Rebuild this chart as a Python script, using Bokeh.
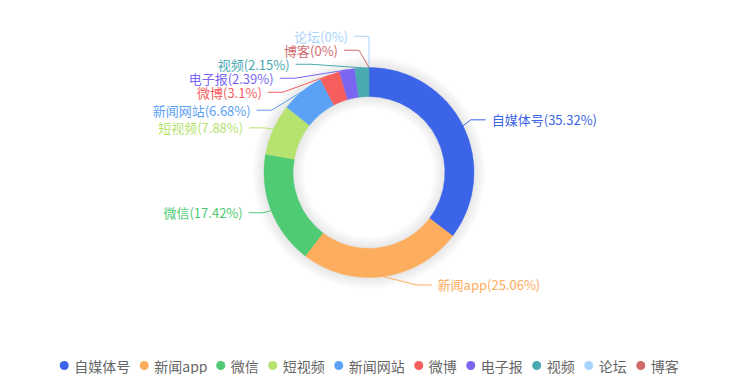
import math
from bokeh.plotting import figure
from bokeh.models import Range1d, ColumnDataSource
from bokeh.core.properties import value
from bokeh.embed import file_html
from bokeh.resources import INLINE

# ---------------- data ----------------
categories = ["自媒体号", "新闻app", "微信", "短视频", "新闻网站", "微博", "电子报", "视频", "论坛", "博客"]
shares = [35.32, 25.06, 17.42, 7.88, 6.68, 3.1, 2.39, 2.15, 0, 0]
colors = ["#3c64e8", "#fdad5e", "#4ecb73", "#b6e36f", "#5ba1f5",
          "#f65e5e", "#7b66f2", "#4aaab2", "#a9d4fc", "#d06b6b"]

# ---------------- layout constants ----------------
PAGE_W, PAGE_H = 737, 382
W, H = 721, 374
CX, CY = 368.5, 172.0          # pie centre (picture px, y down)
R_OUT, R_IN = 105.0, 76.0
L1, L2, GAP = 10.0, 15.0, 6.0  # label line lengths, text gap
R_TEXT = 133.0
LABEL_H = 14.0
FONT = "Noto Sans CJK SC"
LABEL_SIZE = "13px"
LEGEND_SIZE = 14
LEGEND_Y = 365.0


def Y(py):
    return PAGE_H - py


p = figure(width=W, height=H, output_backend="svg", toolbar_location=None,
           x_range=Range1d(0, W), y_range=Range1d(PAGE_H - H, PAGE_H),
           min_border=0)
p.axis.visible = False
p.grid.visible = False
p.outline_line_color = None
p.background_fill_color = "white"
p.border_fill_color = "white"

# ---------------- angles ----------------
total = sum(shares)
ends, acc = [], 0.0
for v in shares:
    acc += v
    ends.append(acc)
starts = [e - v for e, v in zip(ends, shares)]
th_s = [2 * math.pi * s / total for s in starts]
th_e = [2 * math.pi * e / total for e in ends]
mids = [(a + b) / 2 for a, b in zip(th_s, th_e)]

# ---------------- soft shadow ----------------
for k in range(1, 13):
    p.annulus(x=CX, y=Y(CY), inner_radius=R_IN - k, outer_radius=R_OUT + k,
              fill_color="black", fill_alpha=0.008, line_color=None)

# ---------------- label layout (echarts-like) ----------------
items = []
for i, th in enumerate(mids):
    p0 = (CX + R_OUT * math.sin(th), CY - R_OUT * math.cos(th))
    p1 = (CX + (R_OUT + L1) * math.sin(th), CY - (R_OUT + L1) * math.cos(th))
    side = -1 if th > math.pi else 1
    items.append(dict(i=i, side=side, p0=p0, y=p1[1],
                      nat_dx=abs(p1[0] - CX) + L2 + GAP))


def adjust(lst):
    lst.sort(key=lambda it: it["y"])
    n = len(lst)

    def shift_up(end, delta):
        for j in range(end, -1, -1):
            if lst[j]["y"] - delta < 0:
                break
            lst[j]["y"] -= delta
            if j > 0 and lst[j]["y"] > lst[j - 1]["y"] + LABEL_H:
                break

    def shift_down(start, end, delta):
        for j in range(start, end):
            if lst[j]["y"] + delta > PAGE_H:
                break
            lst[j]["y"] += delta
            if j > start and j + 1 < end and lst[j + 1]["y"] > lst[j]["y"] + LABEL_H:
                shift_up(j, delta / 2)
                return
        shift_up(end - 1, delta / 2)

    last = 0.0
    for i in range(n):
        d = lst[i]["y"] - last
        if d < 0:
            shift_down(i, n, -d)
        last = lst[i]["y"] + LABEL_H

    def change_x(sub, is_down):
        lastdx = 1e9 if is_down else 0.0
        for it in sub:
            dy = abs(it["y"] - CY)
            if dy < R_OUT + L1:
                dx = math.sqrt(R_TEXT ** 2 - dy ** 2)
            else:
                dx = it["nat_dx"]
            if is_down and dx >= lastdx:
                dx = lastdx - 10
            if (not is_down) and dx <= lastdx:
                dx = lastdx + 10
            it["dx"] = dx
            lastdx = dx

    change_x([it for it in lst if it["y"] < CY], False)
    change_x([it for it in lst if it["y"] >= CY], True)


adjust([it for it in items if it["side"] < 0])
adjust([it for it in items if it["side"] > 0])

line_xs, line_ys, line_cols = [], [], []
lab = {-1: dict(x=[], y=[], t=[], c=[]), 1: dict(x=[], y=[], t=[], c=[])}
for it in items:
    s = it["side"]
    ax = CX + s * it["dx"]
    p2x = ax - s * GAP
    p1x = p2x - s * L2
    y = it["y"] - 1.5
    line_xs.append([it["p0"][0], p1x, p2x])
    line_ys.append([Y(it["p0"][1]), Y(y), Y(y)])
    line_cols.append(colors[it["i"]])
    lab[s]["x"].append(ax)
    lab[s]["y"].append(Y(y))
    lab[s]["t"].append(f"{categories[it['i']]}({shares[it['i']]:g}%)")
    lab[s]["c"].append(colors[it["i"]])

p.multi_line(xs=line_xs, ys=line_ys, line_color=line_cols, line_width=1)

# ---------------- donut ----------------
ws = ColumnDataSource(dict(
    start=[math.pi / 2 - a for a, v in zip(th_s, shares) if v > 0],
    end=[math.pi / 2 - b for b, v in zip(th_e, shares) if v > 0],
    color=[c for c, v in zip(colors, shares) if v > 0],
))
p.annular_wedge(x=CX, y=Y(CY), inner_radius=R_IN, outer_radius=R_OUT,
                start_angle="start", end_angle="end", direction="clock",
                fill_color="color", line_color="color", line_width=0.5, source=ws)

# ---------------- labels ----------------
for s, align in ((-1, "right"), (1, "left")):
    src = ColumnDataSource(dict(x=lab[s]["x"], y=lab[s]["y"], t=lab[s]["t"], c=lab[s]["c"]))
    p.text(x="x", y="y", text="t", text_color="c", source=src,
           text_font=value(FONT), text_font_size=LABEL_SIZE,
           text_align=align, text_baseline="middle")

# ---------------- legend ----------------
ASCII_W = {"a": 0.55, "p": 0.6}


def text_w(s, size):
    w = 0.0
    for ch in s:
        w += 1.0 if ord(ch) > 0x2E80 else ASCII_W.get(ch, 0.55)
    return w * size


widths = [text_w(c, LEGEND_SIZE) for c in categories]
total_w = sum(widths) + 15 * len(widths) + 9 * (len(widths) - 1)
pos = PAGE_W / 2 - total_w / 2
mx, tx = [], []
for w in widths:
    mx.append(pos + 5)
    tx.append(pos + 15)
    pos = pos + 15 + w + 9

p.scatter(x=mx, y=[Y(LEGEND_Y)] * len(mx), size=9, marker="circle",
          fill_color=colors, line_color=None)
p.text(x=tx, y=[Y(LEGEND_Y)] * len(tx), text=categories, text_color="#666666",
       text_font=value(FONT), text_font_size=f"{LEGEND_SIZE}px",
       text_align="left", text_baseline="middle")

open("out.html", "w").write(file_html(p, INLINE))
